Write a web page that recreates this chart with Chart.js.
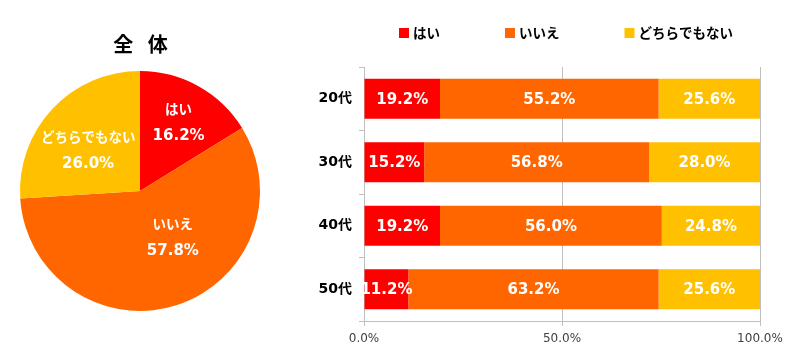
<!DOCTYPE html>
<html><head><meta charset="utf-8">
<script src="https://cdn.jsdelivr.net/npm/chart.js@4/dist/chart.umd.min.js"></script>
<style>
html,body{margin:0;padding:0;background:#fff;width:800px;height:358px;overflow:hidden}
#pieWrap{position:absolute;left:0;top:0;width:280px;height:358px}
#barWrap{position:absolute;left:300px;top:0;width:500px;height:358px}
</style></head><body>
<div id="pieWrap"><canvas id="pie"></canvas></div>
<div id="barWrap"><canvas id="bar"></canvas></div>
<script>
// ---- data ----
const answerLabels = ['はい', 'いいえ', 'どちらでもない'];
const overallValues = [16.2, 57.8, 26.0];
const ageGroups = ['20代', '30代', '40代', '50代'];
const yesValues = [19.2, 15.2, 19.2, 11.2];
const noValues = [55.2, 56.8, 56.0, 63.2];
const neitherValues = [25.6, 28.0, 24.8, 25.6];
const xTickValues = [0, 50, 100];
const pieTitle = '全 体';

// ---- styles ----
const colors = ['#FF0000', '#FF6600', '#FFC000'];
const NUM_FONT = '"DejaVu Sans", "Noto Sans CJK JP", sans-serif';
const JP_FONT = '"Noto Sans CJK JP", "DejaVu Sans", sans-serif';
const fmt = v => v.toFixed(1) + '%';

// ---- pie ----
const pieLabelPlacement = { frac: [0.66, 0.47, 0.55], adjDeg: [0, -18, -5] };
const pieLabelsPlugin = {
  id: 'pieLabels',
  afterDraw(chart) {
    const ctx = chart.ctx;
    const meta = chart.getDatasetMeta(0);
    ctx.save();
    const ca = chart.chartArea;
    ctx.fillStyle = '#000';
    ctx.font = 'bold 20px ' + JP_FONT;
    ctx.textAlign = 'center';
    ctx.textBaseline = 'middle';
    try { ctx.letterSpacing = '5px'; } catch (e) {}
    ctx.fillText(pieTitle, (ca.left + ca.right) / 2 + 3, 44);
    try { ctx.letterSpacing = '0px'; } catch (e) {}
    meta.data.forEach((arc, i) => {
      const p = arc.getProps(['x', 'y', 'startAngle', 'endAngle', 'outerRadius'], true);
      const a = (p.startAngle + p.endAngle) / 2 + pieLabelPlacement.adjDeg[i] * Math.PI / 180;
      const r = p.outerRadius * pieLabelPlacement.frac[i];
      const cx = p.x + Math.cos(a) * r;
      const cy = p.y + Math.sin(a) * r;
      ctx.fillStyle = '#fff';
      ctx.font = 'bold 13.5px ' + JP_FONT;
      ctx.fillText(chart.data.labels[i], cx, cy - 13);
      ctx.font = 'bold 15px ' + NUM_FONT;
      ctx.fillText(fmt(chart.data.datasets[0].data[i]), cx, cy + 14);
    });
    ctx.restore();
  }
};

new Chart(document.getElementById('pie'), {
  type: 'pie',
  data: {
    labels: answerLabels,
    datasets: [{ data: overallValues, backgroundColor: colors, borderWidth: 0 }]
  },
  options: {
    responsive: true,
    maintainAspectRatio: false,
    animation: false,
    layout: { padding: { left: 20, right: 20, top: 71, bottom: 47 } },
    plugins: { legend: { display: false }, tooltip: { enabled: false } }
  },
  plugins: [pieLabelsPlugin]
});

// ---- bar ----
const barExtrasPlugin = {
  id: 'barExtras',
  afterDraw(chart) {
    const ctx = chart.ctx;
    ctx.save();
    ctx.textBaseline = 'middle';
    ctx.fillStyle = '#fff';
    ctx.font = 'bold 15px ' + NUM_FONT;
    ctx.textAlign = 'center';
    chart.data.datasets.forEach((ds, di) => {
      chart.getDatasetMeta(di).data.forEach((bar, i) => {
        const p = bar.getProps(['x', 'y', 'base'], true);
        ctx.fillText(fmt(ds.data[i]), (p.x + p.base) / 2, p.y + 1);
      });
    });
    // legend
    const ca = chart.chartArea;
    ctx.font = 'bold 13.5px ' + JP_FONT;
    ctx.textAlign = 'left';
    const box = 10, gap = 4, spacing = 65;
    const widths = chart.data.datasets.map(ds => box + gap + ctx.measureText(ds.label).width);
    const total = widths.reduce((s, w) => s + w, 0) + spacing * (widths.length - 1);
    let x = (ca.left + ca.right) / 2 - total / 2 + 4;
    const y = 33;
    chart.data.datasets.forEach((ds, i) => {
      ctx.fillStyle = ds.backgroundColor;
      ctx.fillRect(x, y - box / 2, box, box);
      ctx.fillStyle = '#000';
      ctx.fillText(ds.label, x + box + gap, y);
      x += widths[i] + spacing;
    });
    ctx.restore();
  }
};

new Chart(document.getElementById('bar'), {
  type: 'bar',
  data: {
    labels: ageGroups,
    datasets: [
      { label: answerLabels[0], data: yesValues, backgroundColor: colors[0] },
      { label: answerLabels[1], data: noValues, backgroundColor: colors[1] },
      { label: answerLabels[2], data: neitherValues, backgroundColor: colors[2] }
    ]
  },
  options: {
    indexAxis: 'y',
    responsive: true,
    maintainAspectRatio: false,
    animation: false,
    datasets: { bar: { categoryPercentage: 1, barPercentage: 0.63, borderWidth: 0 } },
    layout: { padding: { top: 67, right: 40, left: 0, bottom: 0 } },
    plugins: { legend: { display: false }, tooltip: { enabled: false } },
    scales: {
      x: {
        stacked: true, min: 0, max: 100,
        afterBuildTicks: s => { s.ticks = xTickValues.map(v => ({ value: v })); },
        afterFit: s => { s.height = 37; },
        ticks: { callback: v => fmt(v), font: { family: NUM_FONT, size: 12 }, color: '#404040', padding: 6, maxRotation: 0 },
        grid: { color: '#BFBFBF', tickLength: 5 },
        border: { color: '#BFBFBF' }
      },
      y: {
        stacked: true,
        afterFit: s => { s.width = 64; },
        ticks: { font: { family: NUM_FONT, size: 14, weight: 'bold' }, color: '#000', padding: 7 },
        grid: { offset: true, drawOnChartArea: false, tickLength: 5, color: '#BFBFBF' },
        border: { color: '#BFBFBF' }
      }
    }
  },
  plugins: [barExtrasPlugin]
});
</script>
</body></html>
